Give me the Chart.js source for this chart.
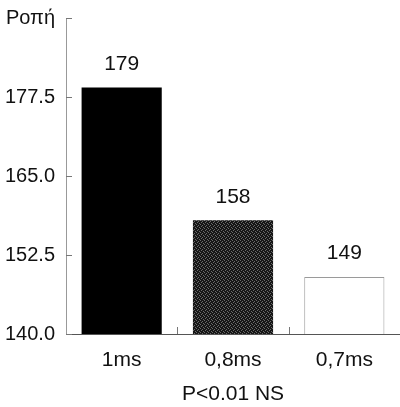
<!DOCTYPE html>
<html>
<head>
<meta charset="utf-8">
<script src="https://cdn.jsdelivr.net/npm/chart.js@4.4.0/dist/chart.umd.min.js"></script>
<style>
  html, body { margin: 0; padding: 0; background: #fff; }
  #wrap { width: 400px; height: 407px; }
</style>
</head>
<body>
<div id="wrap"><canvas id="myChart"></canvas></div>
<script>
const categories = ['1ms', '0,8ms', '0,7ms'];
const values = [179, 158, 149];
const yTicks = [140, 152.5, 165, 177.5, 190];
const yTickLabels = ['140.0', '152.5', '165.0', '177.5', 'Ροπή'];
const xTitle = 'P<0.01 NS';

// halftone-ish fill for the middle bar
function speckle() {
  const c = document.createElement('canvas');
  c.width = 4; c.height = 4;
  const g = c.getContext('2d');
  g.fillStyle = '#161616';
  g.fillRect(0, 0, 4, 4);
  g.fillStyle = '#6a6a6a';
  [[0, 0], [2, 1], [1, 2], [3, 3]].forEach(p => g.fillRect(p[0], p[1], 1, 1));
  return g.createPattern(c, 'repeat');
}

const FONT = "'Liberation Sans', Arial, Helvetica, sans-serif";

// small tick marks pointing into the plot, plus the value labels
const extras = {
  id: 'extras',
  afterDraw(chart) {
    const ctx = chart.ctx;
    const x = chart.scales.x, y = chart.scales.y;
    const area = chart.chartArea;
    ctx.save();
    ctx.lineWidth = 1;
    ctx.strokeStyle = '#777';
    ctx.beginPath();
    yTicks.forEach(v => {
      const py = Math.round(y.getPixelForValue(v)) + 0.5;
      ctx.moveTo(area.left, py);
      ctx.lineTo(area.left + 6, py);
    });
    for (let i = 1; i < categories.length; i++) {
      const px = Math.round((x.getPixelForValue(i - 1) + x.getPixelForValue(i)) / 2) + 0.5;
      ctx.moveTo(px, area.bottom);
      ctx.lineTo(px, area.bottom - 7);
    }
    ctx.stroke();

    const meta = chart.getDatasetMeta(0);
    ctx.fillStyle = '#111';
    ctx.font = '21px ' + FONT;
    ctx.textAlign = 'center';
    ctx.textBaseline = 'bottom';
    meta.data.forEach((bar, i) => {
      ctx.fillText(String(values[i]), bar.x, bar.y - 13);
    });
    ctx.restore();
  }
};

const ctx = document.getElementById('myChart');

new Chart(ctx, {
  type: 'bar',
  data: {
    labels: categories,
    datasets: [{
      data: values,
      backgroundColor: ['#000000', speckle(), '#ffffff'],
      borderColor: ['#000000', '#3a3a3a', '#9a9a9a'],
      borderWidth: [0, 0, { top: 1, left: 1, right: 1, bottom: 0 }],
      borderSkipped: false,
      barPercentage: 0.72,
      categoryPercentage: 1
    }]
  },
  options: {
    responsive: true,
    maintainAspectRatio: false,
    animation: false,
    layout: { padding: { top: 18, right: 0, left: 0, bottom: 0 } },
    plugins: {
      legend: { display: false },
      tooltip: { enabled: false }
    },
    scales: {
      x: {
        grid: { display: false },
        border: { display: true, color: '#555', width: 1 },
        ticks: {
          color: '#111',
          font: { family: FONT, size: 21 },
          padding: 6
        },
        title: {
          display: true,
          text: xTitle,
          color: '#111',
          font: { family: FONT, size: 21 },
          padding: { top: 8, bottom: 0 }
        },
        afterFit(scale) { scale.height = 73; }
      },
      y: {
        min: 140,
        max: 190,
        afterBuildTicks(scale) { scale.ticks = yTicks.map(v => ({ value: v })); },
        grid: { display: false },
        border: { display: true, color: '#999', width: 1 },
        ticks: {
          color: '#111',
          font: { family: FONT, size: 20 },
          padding: 3,
          callback: (v, i) => yTickLabels[i]
        },
        afterFit(scale) { scale.width = 66; }
      }
    }
  },
  plugins: [extras]
});
</script>
</body>
</html>
